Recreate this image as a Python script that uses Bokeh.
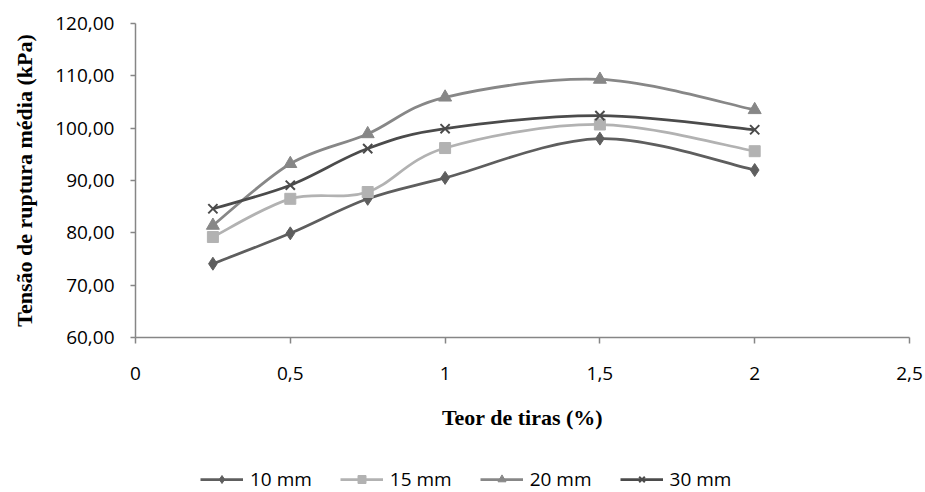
import numpy as np
from bokeh.plotting import figure
from bokeh.layouts import column
from bokeh.models import (ColumnDataSource, Range1d, FixedTicker, CustomJSTickFormatter,
                          Legend, LegendItem)
from bokeh.embed import file_html
from bokeh.resources import INLINE

# ---- data ----
teor = [0.25, 0.5, 0.75, 1.0, 1.5, 2.0]
s10 = [74.1, 79.9, 86.5, 90.5, 98.0, 92.0]
s15 = [79.2, 86.5, 87.8, 96.2, 100.7, 95.6]
s20 = [81.4, 93.2, 98.9, 105.9, 109.3, 103.5]
s30 = [84.6, 89.1, 96.1, 99.9, 102.4, 99.7]
labels = ["10 mm", "15 mm", "20 mm", "30 mm"]
y_ticks = [60, 70, 80, 90, 100, 110, 120]
x_ticks = [0, 0.5, 1, 1.5, 2, 2.5]

series = [s10, s15, s20, s30]
colors = ["#5e5e5e", "#b2b2b2", "#878787", "#4b4b4b"]
markers = ["diamond", "square", "triangle", "x"]
msizes = [13, 11, 13, 13]

TICK_FONT = "Open Sans"
TITLE_FONT = "Liberation Serif"

MAIN_H = 440
LEG_H = 52

p = figure(width=925, height=MAIN_H, output_backend="svg", toolbar_location=None,
           x_range=Range1d(0, 2.5), y_range=Range1d(60, 120),
           min_border_left=135, min_border_right=16, min_border_top=23,
           min_border_bottom=MAIN_H - 337)
p.outline_line_color = None
p.grid.visible = False
p.background_fill_color = "white"
p.border_fill_color = "white"

# legend strip (below the chart)
pl = figure(width=925, height=LEG_H, output_backend="svg", toolbar_location=None,
            x_range=Range1d(0, 2.5), y_range=Range1d(60, 120),
            x_axis_type=None, y_axis_type=None, min_border=0)
pl.outline_line_color = None
pl.grid.visible = False
pl.border_fill_color = "white"


def smooth_segments(xs, ys, t=1.0 / 6.0):
    x = np.asarray(xs, dtype=float)
    y = np.asarray(ys, dtype=float)
    xp = np.concatenate([[x[0]], x, [x[-1]]])
    yp = np.concatenate([[y[0]], y, [y[-1]]])
    n = len(x)
    i = np.arange(n - 1)
    x0, y0 = x[:-1], y[:-1]
    x1, y1 = x[1:], y[1:]
    cx0 = x0 + (xp[i + 2] - xp[i]) * t
    cy0 = y0 + (yp[i + 2] - yp[i]) * t
    cx1 = x1 - (xp[i + 3] - xp[i + 1]) * t
    cy1 = y1 - (yp[i + 3] - yp[i + 1]) * t
    return dict(x0=x0, y0=y0, x1=x1, y1=y1, cx0=cx0, cy0=cy0, cx1=cx1, cy1=cy1)


def add_series(fig, bsrc, psrc, col, mk, ms, visible=True):
    rb = fig.bezier(x0="x0", y0="y0", x1="x1", y1="y1", cx0="cx0", cy0="cy0",
                    cx1="cx1", cy1="cy1", source=bsrc, line_color=col,
                    line_width=2.75, visible=visible)
    if mk == "x":
        rs = fig.scatter("x", "y", source=psrc, marker=mk, size=ms, line_color=col,
                         line_width=2, visible=visible)
    else:
        rs = fig.scatter("x", "y", source=psrc, marker=mk, size=ms, fill_color=col,
                         line_color=col, visible=visible)
    return rb, rs


items = []
for vals, col, mk, ms, lab in zip(series, colors, markers, msizes, labels):
    bsrc = ColumnDataSource(smooth_segments(teor, vals))
    psrc = ColumnDataSource(dict(x=teor, y=vals))
    add_series(p, bsrc, psrc, col, mk, ms)
    rb, rs = add_series(pl, bsrc, psrc, col, mk, ms, visible=False)
    items.append(LegendItem(label=lab, renderers=[rb, rs]))

# ---- axes ----
for ax in (p.xaxis[0], p.yaxis[0]):
    ax.axis_line_color = "#868686"
    ax.axis_line_width = 1.5
    ax.major_tick_line_color = "#868686"
    ax.major_tick_line_width = 1.5
    ax.major_tick_in = 0
    ax.major_tick_out = 6
    ax.minor_tick_line_color = None
    ax.major_label_text_font = TICK_FONT
    ax.major_label_text_font_size = "19px"
    ax.major_label_text_color = "black"
    ax.axis_label_text_font = TITLE_FONT
    ax.axis_label_text_font_style = "bold"
    ax.axis_label_text_font_size = "22px"
    ax.axis_label_text_color = "black"

p.yaxis.ticker = FixedTicker(ticks=y_ticks)
p.xaxis.ticker = FixedTicker(ticks=x_ticks)
p.yaxis.formatter = CustomJSTickFormatter(code="return tick.toFixed(2).replace('.', ',');")
p.xaxis.formatter = CustomJSTickFormatter(code="return String(tick).replace('.', ',');")
p.yaxis.major_tick_out = 5
p.yaxis.major_label_standoff = 16
p.xaxis.major_label_standoff = 23
p.yaxis.axis_label = "Tensão de ruptura média (kPa)"
p.xaxis.axis_label = "Teor de tiras (%)"
p.yaxis.axis_label_standoff = 15
p.xaxis.axis_label_standoff = 22

legend = Legend(items=items, orientation="horizontal", location=(65, 0),
                glyph_width=43, glyph_height=20, label_standoff=7, spacing=28,
                padding=0, margin=0, border_line_color=None,
                background_fill_alpha=0, label_text_font=TICK_FONT,
                label_text_font_size="19px", label_text_color="black",
                click_policy="none")
pl.add_layout(legend, "center")

layout = column(p, pl, spacing=0)
open("out.html", "w").write(file_html(layout, INLINE))
